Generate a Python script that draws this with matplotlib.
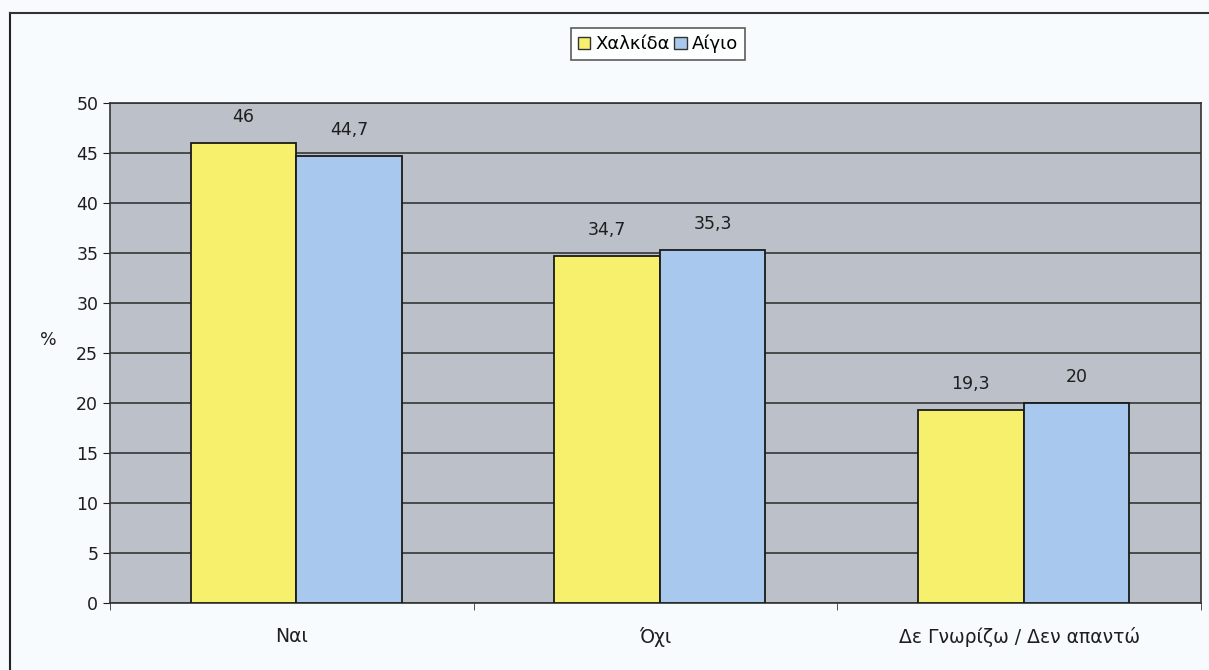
import numpy as np
import matplotlib.pyplot as plt
from matplotlib.patches import Patch
from matplotlib.lines import Line2D

plt.rcParams['font.family'] = ['DejaVu Sans']

categories = ['Ναι', 'Όχι', 'Δε Γνωρίζω / Δεν απαντώ']
chalkida = [46, 34.7, 19.3]
aigio = [44.7, 35.3, 20]
series_names = ['Χαλκίδα', 'Αίγιο']
colors = ['#f7f06c', '#a9c8ee']

fs = 12.5
fig = plt.figure(figsize=(12.09, 6.7), dpi=100)
fig.patch.set_facecolor('#f8fbfd')
ax = fig.add_axes([110 / 1209, 1 - 603 / 670, 1091 / 1209, 500 / 670])
ax.set_facecolor('#bcc0c8')

x = np.arange(len(categories))
w = 0.29
shift = 0.012
for i, vals in enumerate([chalkida, aigio]):
    pos = x + (i - 0.5) * w + shift
    ax.bar(pos, vals, width=w, color=colors[i], edgecolor='#1a1a1a',
           linewidth=1.3, zorder=3)
    for p, v in zip(pos, vals):
        ax.text(p, v + 1.7, f'{v:g}'.replace('.', ','), ha='center',
                va='bottom', fontsize=fs, color='#1e1e1e', zorder=4)

ax.set_xlim(-0.5, len(categories) - 0.5)
ax.set_ylim(0, 50)
ax.set_yticks(np.arange(0, 51, 5))
ax.set_xticks(x)
ax.set_xticklabels(categories, fontsize=13.5, color='#1e1e1e')
ax.set_xticks(np.arange(-0.5, len(categories), 1), minor=True)
ax.tick_params(axis='x', which='major', length=0, pad=17)
ax.tick_params(axis='x', which='minor', length=5, direction='out', color='#333333')
ax.tick_params(axis='y', labelsize=fs, colors='#1e1e1e', length=5, labelcolor='#1e1e1e')
ax.yaxis.grid(True, color='#2a2a2a', linewidth=1.1, zorder=1)
ax.set_axisbelow(True)
for s in ax.spines.values():
    s.set_color('#333333')
    s.set_linewidth(1.2)
ax.set_ylabel('%', rotation=0, fontsize=fs, color='#1e1e1e', va='center', ha='center')
ax.yaxis.set_label_coords((48 - 110) / 1091, (603 - 340) / 500)

handles = [Patch(facecolor=c, edgecolor='#333333', linewidth=1) for c in colors]
leg = fig.legend(handles, series_names, loc='center', bbox_to_anchor=(658 / 1209, 1 - 44 / 670),
                 ncol=2, fontsize=13, frameon=True, fancybox=False, handlelength=0.7,
                 handleheight=0.7, handletextpad=0.3, columnspacing=0.2, borderpad=0.35,
                 edgecolor='#333333')
leg.get_frame().set_linewidth(1.2)

# outer chart border (left and top visible in the scan)
fig.add_artist(Line2D([10 / 1209, 10 / 1209], [0, 1 - 13 / 670], color='#222222', lw=1.5))
fig.add_artist(Line2D([10 / 1209, 1], [1 - 13 / 670, 1 - 13 / 670], color='#333333', lw=1.5))

fig.savefig('out.png', dpi=100, facecolor=fig.get_facecolor())
